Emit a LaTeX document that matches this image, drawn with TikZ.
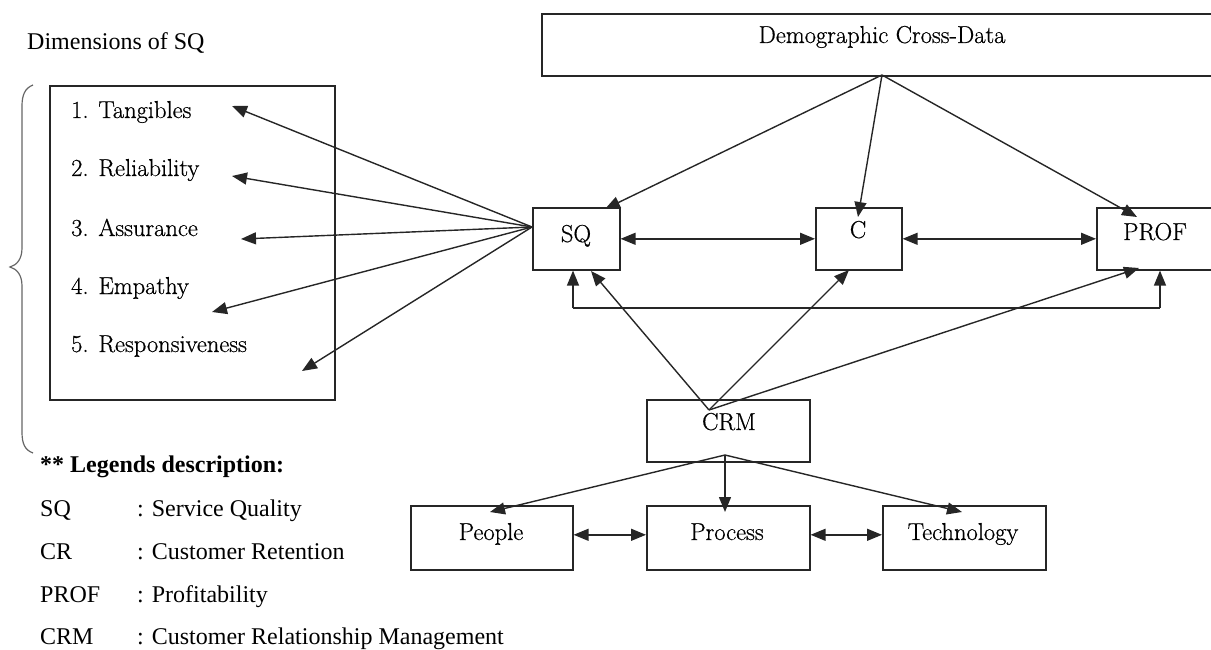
\documentclass[tikz,border=0pt]{standalone}
\usepackage{fontspec}
\newfontfamily\legendfont{Liberation Serif}
\newfontfamily\diagfont{lmroman17-regular.otf}[FakeBold=0.6]
\usetikzlibrary{arrows.meta}
\begin{document}
\begin{tikzpicture}[x=1pt,y=-1pt,
  box/.style={draw=black!85, line width=1.6pt, inner sep=0pt, anchor=north west},
  lbl/.style={font=\diagfont\fontsize{24.5}{28}\selectfont, inner sep=0pt, anchor=base},
  item/.style={font=\diagfont\fontsize{24.5}{28}\selectfont, inner sep=0pt, anchor=base west},
  leg/.style={font=\legendfont\fontsize{24}{28}\selectfont, inner sep=0pt, anchor=base west},
  tip/.style={-{Triangle[length=15pt,width=12pt]}},
  arr/.style={line width=1.4pt, draw=black!85, tip},
  darr/.style={line width=1.4pt, draw=black!85,
    {Triangle[length=15pt,width=12pt]}-{Triangle[length=15pt,width=12pt]}},
  bracestyle/.style={line width=1.2pt, draw=black!60},
]
\useasboundingbox (0,0) rectangle (1211,650);

% heading above the list of SQ dimensions
\node[leg] (dimhead) at (27,50) {Dimensions of SQ};

% curly brace left of the dimensions box
\draw[bracestyle] (33,85) .. controls (25,88) and (22,95) .. (22,106)
  -- (22,248) .. controls (22,259) and (17,265) .. (10,267)
  .. controls (17,269) and (22,275) .. (22,286)
  -- (22,432) .. controls (22,444) and (25,450) .. (33,453);

% box with the five dimensions
\node[box, minimum width=285, minimum height=314] (dims) at (49,85) {};
\node[item] (d1) at (71,118) {1. Tangibles};
\node[item] (d2) at (71,176) {2. Reliability};
\node[item] (d3) at (71,236) {3. Assurance};
\node[item] (d4) at (71,294) {4. Empathy};
\node[item] (d5) at (71,352) {5. Responsiveness};

% main construct boxes
\node[box, minimum width=684, minimum height=62] (dem) at (541,13) {};
\node[lbl] (demT) at (882,43) {Demographic Cross-Data};

\node[box, minimum width=87, minimum height=62] (sq) at (532,207) {};
\node[lbl] (sqT) at (576,242) {SQ};
\node[box, minimum width=86, minimum height=62] (c) at (815,207) {};
\node[lbl] (cT) at (858,238) {C};
\node[box, minimum width=129, minimum height=62] (prof) at (1096,207) {};
\node[lbl] (profT) at (1155,240) {PROF};

\node[box, minimum width=163, minimum height=62] (crm) at (646,399) {};
\node[lbl] (crmT) at (729,430) {CRM};

\node[box, minimum width=162, minimum height=64] (people) at (410,505) {};
\node[lbl] (peopleT) at (491,540) {People};
\node[box, minimum width=163, minimum height=64] (process) at (646,505) {};
\node[lbl] (processT) at (727,540) {Process};
\node[box, minimum width=163, minimum height=64] (tech) at (882,505) {};
\node[lbl] (techT) at (963,540) {Technology};

% arrow end points
\coordinate (fanS) at (532,227);
\coordinate (tD1) at (232,106);
\coordinate (tD2) at (232,176);
\coordinate (tD3) at (241,239);
\coordinate (tD4) at (212,312);
\coordinate (tD5) at (302,371);

\coordinate (demS) at (882,75);
\coordinate (tDemSQ) at (605,209);
\coordinate (tDemC) at (858,217);
\coordinate (tDemP) at (1137,217);

\coordinate (crmTop) at (709,410);
\coordinate (tCrmSQ) at (591,271);
\coordinate (tCrmC) at (849,270);
\coordinate (tCrmP) at (1139,268);

\coordinate (crmBot) at (725,455);
\coordinate (tPeople) at (490,512);
\coordinate (tProcess) at (725,512);
\coordinate (tTech) at (962,512);

\coordinate (retL) at (573,308);
\coordinate (retR) at (1160,308);

% SQ to its dimensions
\foreach \t in {tD1,tD2,tD3,tD4,tD5}
  \draw[arr] (fanS) -- (\t);

% demographic data to the three constructs
\draw[arr] (demS) -- (tDemSQ);
\draw[arr] (demS) -- (tDemC);
\draw[arr] (demS) -- (tDemP);

% links between SQ, C and PROF
\draw[darr] (sq.east) -- (c.west);
\draw[darr] (c.east) -- (prof.west);
\draw[line width=1.4pt, draw=black!85] (retL) -- (retR);
\draw[arr] (retL) -- (retL |- sq.south);
\draw[arr] (retR) -- (retR |- prof.south);

% CRM to the constructs
\draw[arr] (crmTop) -- (tCrmSQ);
\draw[arr] (crmTop) -- (tCrmC);
\draw[arr] (crmTop) -- (tCrmP);

% CRM to its components
\draw[arr] (crmBot) -- (tPeople);
\draw[arr] (crmBot) -- (tProcess);
\draw[arr] (crmBot) -- (tTech);
\draw[darr] ([yshift=3pt]people.east) -- ([yshift=3pt]process.west);
\draw[darr] ([yshift=3pt]process.east) -- ([yshift=3pt]tech.west);

% legend
\node[leg, font=\legendfont\bfseries\fontsize{24}{28}\selectfont] (leghead) at (40,472) {** Legends description:};
\node[leg] (a1) at (40,516) {SQ};
\node[leg] (b1) at (137,516) {: Service Quality};
\node[leg] (a2) at (40,559) {CR};
\node[leg] (b2) at (137,559) {: Customer Retention};
\node[leg] (a3) at (40,602) {PROF};
\node[leg] (b3) at (137,602) {: Profitability};
\node[leg] (a4) at (40,644) {CRM};
\node[leg] (b4) at (137,644) {: Customer Relationship Management};
\end{tikzpicture}
\end{document}
